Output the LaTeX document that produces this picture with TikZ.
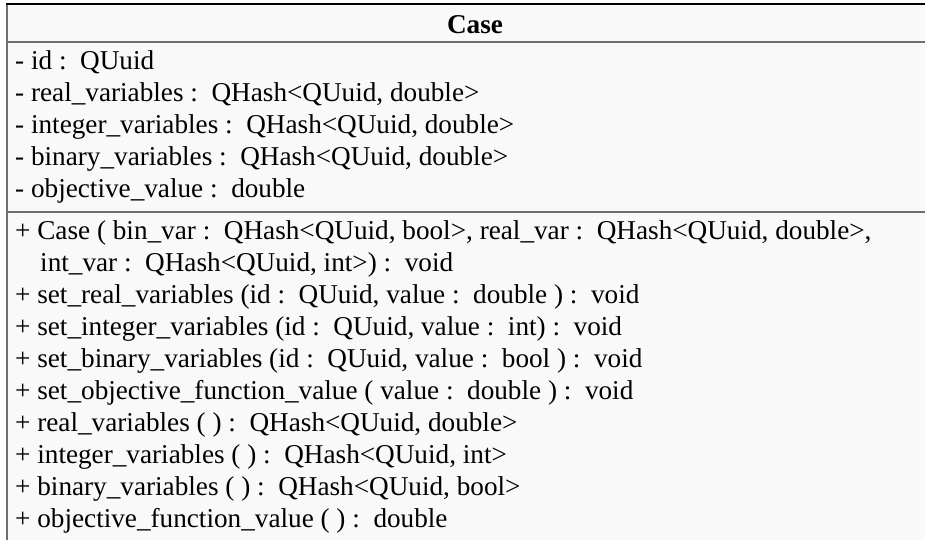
\documentclass[tikz,border=0pt]{standalone}
\usepackage{fontspec}
\setmainfont{Liberation Serif}
\definecolor{boxfill}{HTML}{F9F9F9}
\definecolor{sepcol}{HTML}{6E6E6E}
\newcommand\cln{\ :\hspace{0.5em}}
\begin{document}
\begin{tikzpicture}[x=1pt,y=-1pt,
  txt/.style={anchor=base west, inner sep=0pt, font=\fontsize{27.2}{32}\selectfont},
  ttl/.style={anchor=base, inner sep=0pt, font=\fontsize{27.2}{32}\selectfont\bfseries},
  sepline/.style={draw=sepcol, line width=2pt}]
\useasboundingbox (0,0) rectangle (925,540);
\fill[boxfill] (7,4.5) rectangle (960,580);
\draw[sepline] (7,580) -- (7,4.5);
\draw[black, line width=2pt] (6,4.5) -- (960,4.5);
\draw[sepline] (7,42) -- (960,42);
\draw[sepline] (7,212) -- (960,212);
\node[ttl] (title) at (475,34) {Case};
\node[txt] (a1) at (15,69.5) {- id\cln QUuid};
\node[txt] (a2) at (15,101.5) {- real\_variables\cln QHash<QUuid, double>};
\node[txt] (a3) at (15,133.5) {- integer\_variables\cln QHash<QUuid, double>};
\node[txt] (a4) at (15,165.5) {- binary\_variables\cln QHash<QUuid, double>};
\node[txt] (a5) at (15,197.5) {- objective\_value\cln double};
\node[txt] (m1) at (15,239.5) {+ Case ( bin\_var\cln QHash<QUuid, bool>, real\_var\cln QHash<QUuid, double>,};
\node[txt] (m2) at (40,271.5) {int\_var\cln QHash<QUuid, int>)\cln void};
\node[txt] (m3) at (15,303.5) {+ set\_real\_variables (id\cln QUuid, value\cln double )\cln void};
\node[txt] (m4) at (15,335.5) {+ set\_integer\_variables (id\cln QUuid, value\cln int)\cln void};
\node[txt] (m5) at (15,367.5) {+ set\_binary\_variables (id\cln QUuid, value\cln bool )\cln void};
\node[txt] (m6) at (15,399.5) {+ set\_objective\_function\_value ( value\cln double )\cln void};
\node[txt] (m7) at (15,431.5) {+ real\_variables ( )\cln QHash<QUuid, double>};
\node[txt] (m8) at (15,463.5) {+ integer\_variables ( )\cln QHash<QUuid, int>};
\node[txt] (m9) at (15,495.5) {+ binary\_variables ( )\cln QHash<QUuid, bool>};
\node[txt] (m10) at (15,527.5) {+ objective\_function\_value ( )\cln double};
\end{tikzpicture}
\end{document}
